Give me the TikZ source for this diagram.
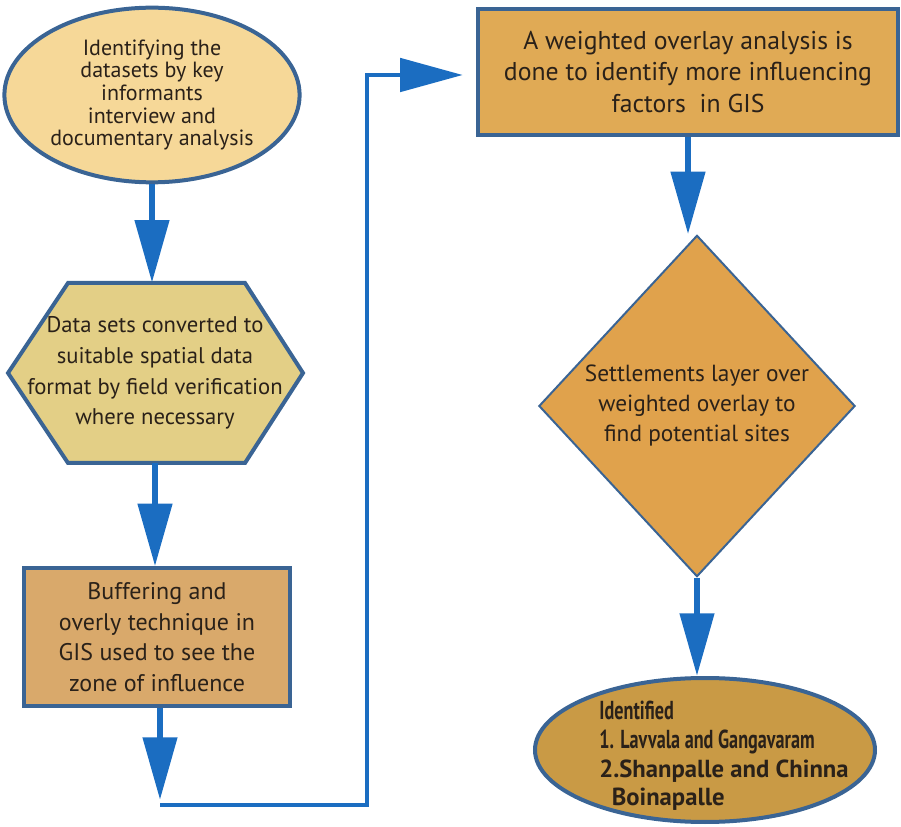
\documentclass[tikz,border=0pt]{standalone}
\usepackage{fontspec}
\usepackage{graphicx}
\setmainfont{PT Sans}
\newcommand\narrowtext[1]{\scalebox{0.7}[1]{#1}}
\usetikzlibrary{shapes.geometric,arrows.meta}
\definecolor{edgeblue}{HTML}{3A6494}
\definecolor{flowblue}{HTML}{1B6DC1}
\definecolor{inkbrown}{HTML}{2A2119}
\definecolor{paletan}{HTML}{F6D898}
\definecolor{khaki}{HTML}{E3CF86}
\definecolor{claytan}{HTML}{D9A96B}
\definecolor{ochre}{HTML}{E0AA55}
\definecolor{amber}{HTML}{E0A24C}
\definecolor{gold}{HTML}{C99A45}
\tikzset{
  stepnode/.style={draw=edgeblue,line width=3pt,text=inkbrown,align=center,inner sep=2pt},
  flow/.style={draw=flowblue,line width=5pt,-{Triangle[width=25pt,length=47pt]}},
  flowline/.style={draw=flowblue,line width=3pt}
}
\begin{document}
\begin{tikzpicture}[x=0.75pt,y=-0.75pt]
  \useasboundingbox (0,0) rectangle (901,827);
  % Left column
  \node[stepnode,ellipse,fill=paletan,minimum width=210pt,minimum height=131pt,
    font=\fontsize{16.5}{17}\selectfont] (ident) at (152,95)
    {Identifying the\\datasets by key\\informants\\interview and\\documentary analysis};
  \coordinate (convc) at (155,373);
  \draw[draw=edgeblue,line width=3pt,fill=khaki] (convc) ++(-87,-90) -- ++(177,0) -- ++(58,90)
    -- ++(-58,90) -- ++(-177,0) -- ++(-60,-90) -- cycle;
  \node[text=inkbrown,align=center,minimum height=135pt,
    font=\fontsize{17}{23}\selectfont] (conv) at (convc)
    {Data sets converted to\\suitable spatial data\\format by field verification\\where necessary};
  \node[stepnode,rectangle,fill=claytan,minimum width=199pt,minimum height=103pt,
    font=\fontsize{18}{23}\selectfont] (buffer) at (157,637)
    {Buffering and\\overly technique in\\GIS used to see the\\zone of influence};
  % Right column
  \node[stepnode,rectangle,fill=ochre,minimum width=315pt,minimum height=95pt,
    font=\fontsize{19.3}{23.5}\selectfont] (overlay) at (688,72)
    {A weighted overlay analysis is\\done to identify more influencing\\factors\ \ in GIS};
  \node[stepnode,diamond,line width=1.5pt,fill=amber,minimum width=237pt,minimum height=256pt,
    font=\fontsize{17.5}{22.5}\selectfont] (settle) at (697,406)
    {Settlements layer over\\weighted overlay to\\find potential sites};
  \node[stepnode,ellipse,fill=gold,minimum width=255pt,minimum height=108pt] (found) at (705,750) {};
  \node[text=inkbrown,align=left,font=\bfseries\fontsize{18.5}{21.5}\selectfont] (foundtxt) at (724,756)
    {\narrowtext{\fontsize{19.5}{21.5}\selectfont Identified}\\
     \narrowtext{\fontsize{19.5}{21.5}\selectfont 1. Lavvala and Gangavaram}\\
     2.Shanpalle and Chinna\\
     \ \ Boinapalle};
  % Connectors
  \coordinate (turnA) at (160,800);
  \coordinate (turnB) at (160,805);
  \coordinate (turnC) at (367,805);
  \coordinate (turnD) at (367,75);
  \draw[flow] (ident.south) -- (ident.south |- conv.north);
  \draw[flow] (conv.south) -- (conv.south |- buffer.north);
  \draw[flow] (buffer.south -| turnA) -- (turnA);
  \draw[flowline,-{Triangle[width=25pt,length=47pt]}] (turnB) -- (turnC) -- (turnD)
    -- ([xshift=-10pt]overlay.west |- turnD);
  \draw[flow] (overlay.south) -- (overlay.south |- settle.north);
  \draw[flow] (settle.south) -- (settle.south |- found.north);
\end{tikzpicture}
\end{document}
